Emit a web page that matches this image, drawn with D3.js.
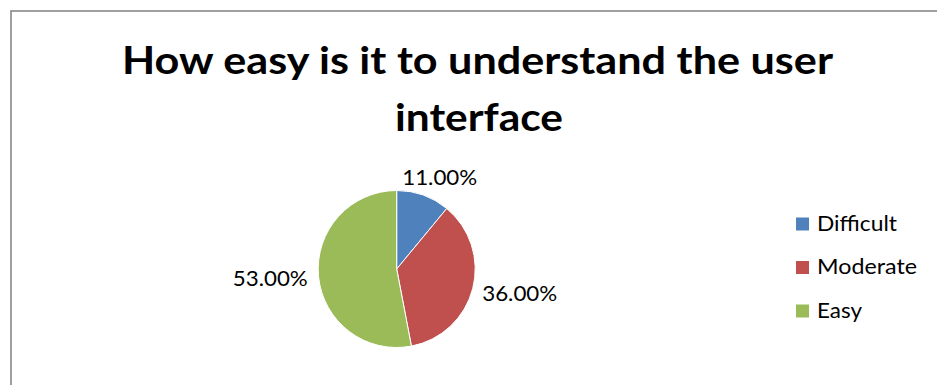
<!DOCTYPE html>
<html>
<head>
<meta charset="utf-8">
<script src="https://cdn.jsdelivr.net/npm/d3@7/dist/d3.min.js"></script>
<style>
  html, body { margin: 0; padding: 0; background: #fff; }
  svg { display: block; }
  text { font-family: Lato, "Open Sans", "Noto Sans", sans-serif; fill: #000; }
</style>
</head>
<body>
<svg id="chart" width="937" height="385"></svg>
<script>
// Survey answers
const categories = ["Difficult", "Moderate", "Easy"];
const shares = [11, 36, 53];
const labels = ["11.00%", "36.00%", "53.00%"];
const colors = ["#4F81BD", "#C0504D", "#9BBB59"];
const titleLines = ["How easy is it to understand the user", "interface"];

const W = 937, H = 385;
const svg = d3.select("#chart");

// chart frame (right and bottom edges fall outside the view)
svg.append("rect")
  .attr("x", 11).attr("y", 11)
  .attr("width", W + 20).attr("height", H + 20)
  .attr("fill", "#fff")
  .attr("stroke", "#888")
  .attr("stroke-width", 1.6);

// title
const titleCfg = [
  { y: 74, cx: 477.5, len: 711 },
  { y: 131, cx: 479, len: 168 }
];
svg.selectAll("text.title")
  .data(titleLines)
  .join("text")
  .attr("class", "title")
  .attr("x", (d, i) => titleCfg[i].cx)
  .attr("y", (d, i) => titleCfg[i].y)
  .attr("text-anchor", "middle")
  .attr("font-weight", "bold")
  .attr("font-size", 38)
  .attr("textLength", (d, i) => titleCfg[i].len)
  .attr("lengthAdjust", "spacingAndGlyphs")
  .text(d => d);

// pie
const cx = 396.7, cy = 269, r = 78.5;
const pie = d3.pie().sort(null).value(d => d.v);
const arcs = pie(categories.map((c, i) => ({ c, v: shares[i], i })));
const arc = d3.arc().innerRadius(0).outerRadius(r);

const g = svg.append("g").attr("transform", `translate(${cx},${cy})`);
g.selectAll("path")
  .data(arcs)
  .join("path")
  .attr("d", arc)
  .attr("fill", d => colors[d.data.i])
  .attr("stroke", "#fff")
  .attr("stroke-width", 1);

// outside data labels: box pushed outward from the slice's mid-angle
const labelSize = 22, capH = 16, labelW = 75, pad = 11;
g.selectAll("text.lbl")
  .data(arcs)
  .join("text")
  .attr("class", "lbl")
  .attr("font-size", labelSize)
  .attr("text-anchor", "middle")
  .attr("textLength", labelW)
  .attr("lengthAdjust", "spacingAndGlyphs")
  .each(function (d) {
    const a = (d.startAngle + d.endAngle) / 2;
    const s = Math.sin(a), c = -Math.cos(a);
    const bx = (r + pad) * s + (labelW / 2) * s;
    const by = (r + pad) * c + (capH / 2) * c;
    d3.select(this).attr("x", bx).attr("y", by + capH / 2);
  })
  .text(d => labels[d.data.i]);

// legend
const ly = d3.scalePoint().domain(categories).range([224, 311]);
const legendLen = { Difficult: 80, Moderate: 100, Easy: 45 };
const lg = svg.append("g");
const item = lg.selectAll("g")
  .data(categories)
  .join("g")
  .attr("transform", d => `translate(796,${ly(d)})`);
item.append("rect")
  .attr("x", 0).attr("y", -6.5)
  .attr("width", 13).attr("height", 13)
  .attr("fill", (d, i) => colors[i]);
item.append("text")
  .attr("x", 21).attr("y", 6.5)
  .attr("font-size", 21)
  .attr("textLength", d => legendLen[d])
  .attr("lengthAdjust", "spacingAndGlyphs")
  .text(d => d);
</script>
</body>
</html>
